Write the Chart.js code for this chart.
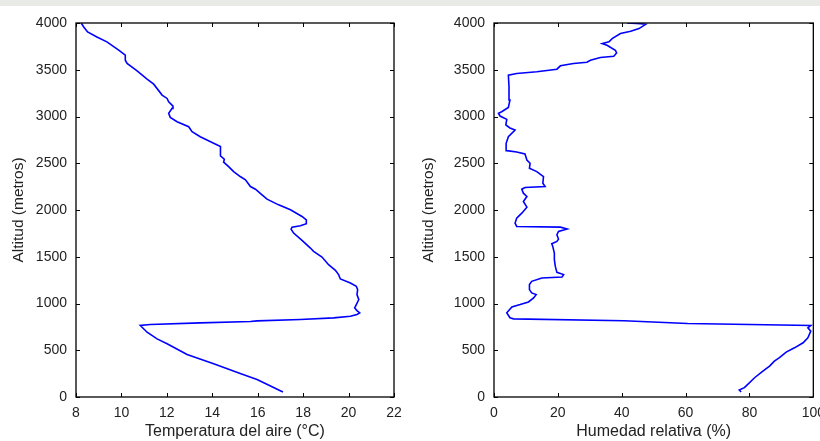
<!DOCTYPE html>
<html lang="es">
<head>
  <meta charset="UTF-8">
  <title>Perfil vertical - temperatura y humedad</title>
  <script src="https://cdn.jsdelivr.net/npm/chart.js"></script>
  <style>
    html, body {
      margin: 0;
      padding: 0;
      width: 820px;
      height: 441px;
      overflow: hidden;
      background: #fff;
      font-family: "Liberation Sans", Arial, sans-serif;
    }
    #franja {
      position: absolute;
      left: 0; top: 0;
      width: 820px; height: 6px;
      background: #e8eae5;
      z-index: 2;
    }
    .panel { position: absolute; top: 0; height: 441px; }
    #panelTemp { left: 0; width: 410px; }
    #panelHum { left: 410px; width: 423px; }
  </style>
</head>
<body>
  <div id="franja"></div>
  <div class="panel" id="panelTemp"><canvas id="graficoTemp"></canvas></div>
  <div class="panel" id="panelHum"><canvas id="graficoHum"></canvas></div>

  <script>
    // perfil de temperatura (de abajo hacia arriba)
    const altTemp = [53, 188, 252, 356, 455, 569, 622, 693, 722, 765, 775, 793, 807, 814, 829, 846, 864, 882, 900, 924,
      953, 988, 1042, 1095, 1149, 1184, 1220, 1262, 1309, 1355, 1415, 1497, 1558, 1593, 1675, 1753, 1796, 1817, 1831, 1853,
      1895, 1931, 2002, 2055, 2116, 2162, 2222, 2251, 2322, 2358, 2411, 2464, 2511, 2543, 2578, 2678, 2713, 2784, 2838, 2891,
      2944, 2991, 3033, 3087, 3111, 3158, 3193, 3229, 3346, 3400, 3488, 3567, 3602, 3656, 3709, 3798, 3851, 3904, 3958, 4000];
    const temperatura = [17.11, 15.97, 15.23, 14.06, 12.89, 12.01, 11.57, 11.13, 11.01, 10.83, 11.27, 13.47, 15.68, 15.97, 17.88, 19.34, 20.08, 20.37, 20.49, 20.37,
      20.27, 20.34, 20.45, 20.37, 20.40, 20.34, 20.08, 19.64, 19.56, 19.42, 19.12, 18.83, 18.46, 18.32, 17.95, 17.58, 17.47, 17.51, 17.88, 18.14,
      18.14, 17.95, 17.44, 16.92, 16.41, 16.19, 15.90, 15.68, 15.46, 15.23, 14.94, 14.72, 14.50, 14.53, 14.36, 14.36, 14.06, 13.47, 13.11, 12.96,
      12.45, 12.15, 12.08, 12.23, 12.27, 12.08, 12.01, 11.79, 11.42, 11.13, 10.69, 10.25, 10.17, 10.17, 9.88, 9.36, 8.92, 8.51, 8.34, 8.23];

    // perfil de humedad relativa
    const altHum = [53, 75, 100, 117, 206, 277, 331, 384, 420, 480, 526, 580, 633, 704, 740, 765, 786, 815, 836, 847,
      900, 964, 989, 1017, 1060, 1095, 1113, 1149, 1202, 1237, 1273, 1284, 1309, 1333, 1397, 1469, 1540, 1611, 1639, 1664,
      1689, 1735, 1771, 1796, 1817, 1824, 1860, 1913, 1966, 2030, 2091, 2144, 2180, 2222, 2240, 2251, 2286, 2358, 2411, 2447,
      2500, 2535, 2599, 2621, 2635, 2713, 2784, 2855, 2877, 2909, 2969, 3005, 3033, 3051, 3097, 3176, 3318, 3442, 3460, 3478,
      3506, 3542, 3567, 3581, 3602, 3631, 3645, 3680, 3709, 3762, 3780, 3798, 3833, 3887, 3911, 3940, 3986, 3993, 4000];
    const humedad = [77.4, 76.8, 78.4, 78.9, 81.6, 84.2, 86.3, 87.8, 89.4, 91.5, 94.1, 96.8, 98.3, 99.2, 98.3, 99.2, 60.6, 40.7, 6.1, 5.0,
      4.0, 5.6, 8.2, 10.8, 12.4, 13.2, 11.8, 11.1, 11.1, 11.8, 15.0, 21.3, 21.8, 19.7, 19.2, 18.9, 18.9, 18.4, 18.1, 19.7,
      20.2, 19.7, 20.2, 22.9, 20.8, 7.1, 6.6, 7.1, 8.7, 10.3, 9.2, 10.3, 9.2, 8.7, 9.7, 16.0, 15.3, 15.5, 13.4, 11.1,
      11.3, 10.3, 9.7, 7.1, 4.0, 3.8, 4.5, 6.6, 5.0, 3.7, 4.0, 1.9, 1.4, 2.4, 4.5, 5.0, 4.7, 4.5, 7.1, 13.4,
      19.7, 20.8, 24.9, 29.1, 30.2, 33.3, 37.5, 38.4, 38.0, 35.4, 33.9, 36.0, 37.0, 39.6, 42.8, 45.4, 47.5, 45.9, 41.7];

    const ticksAltitud = [0, 500, 1000, 1500, 2000, 2500, 3000, 3500, 4000];

    Chart.defaults.font.family = '"Liberation Sans", Arial, sans-serif';
    Chart.defaults.color = '#222';

    // marco completo y marcas hacia dentro (estilo gnuplot)
    const marcoPlugin = {
      id: 'marco',
      afterDraw(chart) {
        const { ctx, chartArea: a, scales } = chart;
        const largo = 4;
        ctx.save();
        ctx.strokeStyle = '#000';
        ctx.lineWidth = 1;
        scales.x.ticks.forEach(t => {
          const px = Math.round(scales.x.getPixelForValue(t.value)) + 0.5;
          ctx.beginPath();
          ctx.moveTo(px, a.bottom); ctx.lineTo(px, a.bottom - largo);
          ctx.moveTo(px, a.top); ctx.lineTo(px, a.top + largo);
          ctx.stroke();
        });
        scales.y.ticks.forEach(t => {
          const py = Math.round(scales.y.getPixelForValue(t.value)) + 0.5;
          ctx.beginPath();
          ctx.moveTo(a.left, py); ctx.lineTo(a.left + largo, py);
          ctx.moveTo(a.right, py); ctx.lineTo(a.right - largo, py);
          ctx.stroke();
        });
        ctx.lineWidth = 1.3;
        ctx.strokeRect(a.left, a.top, a.right - a.left, a.bottom - a.top);
        ctx.restore();
      }
    };

    function crearGrafico(id, xs, ys, opts) {
      const puntos = xs.map((v, i) => ({ x: v, y: ys[i] }));
      return new Chart(document.getElementById(id), {
        type: 'scatter',
        data: {
          datasets: [{
            data: puntos,
            showLine: true,
            borderColor: '#0000ff',
            borderWidth: 1.6,
            pointRadius: 0,
            tension: 0
          }]
        },
        options: {
          responsive: true,
          maintainAspectRatio: false,
          animation: false,
          layout: { padding: { left: opts.padLeft, right: opts.padRight, top: 23, bottom: 0 } },
          plugins: { legend: { display: false }, tooltip: { enabled: false } },
          scales: {
            x: {
              type: 'linear',
              min: opts.xMin,
              max: opts.xMax,
              afterBuildTicks: s => { s.ticks = opts.xTicks.map(v => ({ value: v })); },
              grid: { drawOnChartArea: false, drawTicks: false },
              border: { display: false },
              ticks: { padding: 8, font: { size: 14 }, color: '#222', callback: v => String(v) },
              title: { display: true, text: opts.xTitulo, font: { size: 16 }, color: '#222', padding: { top: 5, bottom: 0 } },
              afterFit: s => { s.height = 44; }
            },
            y: {
              type: 'linear',
              min: 0,
              max: 4000,
              afterBuildTicks: s => { s.ticks = ticksAltitud.map(v => ({ value: v })); },
              grid: { drawOnChartArea: false, drawTicks: false },
              border: { display: false },
              ticks: { padding: 9, font: { size: 14 }, color: '#222', callback: v => String(v) },
              title: { display: true, text: 'Altitud (metros)', font: { size: 15.5 }, color: '#222', padding: { top: 0, bottom: 6 } },
              afterFit: s => { s.width = opts.yAncho; }
            }
          }
        },
        plugins: [marcoPlugin]
      });
    }

    crearGrafico('graficoTemp', temperatura, altTemp, {
      xMin: 8, xMax: 22, xTicks: [8, 10, 12, 14, 16, 18, 20, 22],
      xTitulo: 'Temperatura del aire (°C)', yAncho: 67, padLeft: 9, padRight: 16
    });

    crearGrafico('graficoHum', humedad, altHum, {
      xMin: 0, xMax: 100, xTicks: [0, 20, 40, 60, 80, 100],
      xTitulo: 'Humedad relativa (%)', yAncho: 75, padLeft: 9, padRight: 14
    });
  </script>
</body>
</html>
